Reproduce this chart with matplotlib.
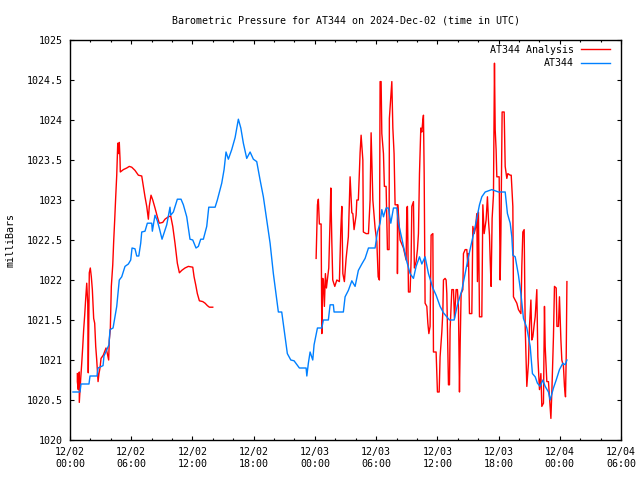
import matplotlib
matplotlib.use("Agg")
import matplotlib.pyplot as plt
from matplotlib.ticker import MultipleLocator, FuncFormatter

# hours since 2024-12-02 00:00 UTC
obs_hours = [0.29, 0.98, 1.08, 1.86, 1.96, 2.65, 2.75, 3.24, 3.33, 3.82, 3.92, 4.22, 4.58, 4.83,
             5.07, 5.39, 5.72, 5.95, 6.08, 6.37, 6.54, 6.74, 6.93, 7.03, 7.35, 7.58, 8.01, 8.07,
             8.33, 8.56, 8.75, 9.02, 9.22, 9.48, 9.80, 9.87, 10.13, 10.52, 10.88, 11.11, 11.44,
             11.76, 12.03, 12.35, 12.58, 12.81, 13.07, 13.40, 13.60, 14.22, 14.44, 14.68, 14.87,
             15.10, 15.29, 15.52, 15.85, 16.18, 16.50, 16.74, 16.99, 17.32, 17.65, 17.97, 18.30,
             18.63, 18.95, 19.28, 19.61, 19.93, 20.26, 20.42, 20.75, 21.08, 21.30, 21.64, 21.96,
             22.48, 23.14, 23.21, 23.36, 23.53, 23.79, 23.92, 24.25, 24.68, 24.83, 25.32, 25.49,
             25.81, 25.88, 26.79, 26.96, 27.28, 27.62, 27.94, 28.26, 28.60, 28.92, 29.25, 29.90,
             30.13, 30.39, 30.56, 30.72, 30.98, 31.21, 31.44, 31.70, 32.03, 32.19, 32.52, 32.68,
             33.01, 33.33, 33.66, 33.92, 34.25, 34.48, 34.80, 35.13, 35.56, 35.88, 36.27, 36.60,
             37.19, 37.65, 37.97, 38.40, 38.73, 39.05, 39.38, 39.71, 40.13, 40.36, 40.69, 41.34,
             41.99, 42.65, 42.87, 43.14, 43.30, 43.40, 43.63, 43.95, 44.19, 44.44, 44.77, 45.10,
             45.32, 45.59, 45.81, 46.08, 46.34, 46.57, 46.89, 47.06, 47.23, 47.38, 47.65, 47.97,
             48.30, 48.53, 48.70]
obs_mb = [1020.60, 1020.60, 1020.70, 1020.70, 1020.80, 1020.80, 1020.90, 1020.93, 1021.05, 1021.19,
          1021.38, 1021.40, 1021.67, 1022.00, 1022.04, 1022.17, 1022.20, 1022.25, 1022.40, 1022.39,
          1022.30, 1022.30, 1022.46, 1022.60, 1022.61, 1022.71, 1022.71, 1022.61, 1022.81, 1022.74,
          1022.65, 1022.51, 1022.59, 1022.69, 1022.91, 1022.81, 1022.85, 1023.01, 1023.01, 1022.94,
          1022.79, 1022.51, 1022.50, 1022.40, 1022.42, 1022.51, 1022.51, 1022.67, 1022.91, 1022.91,
          1023.00, 1023.12, 1023.21, 1023.38, 1023.60, 1023.51, 1023.63, 1023.78, 1024.01, 1023.90,
          1023.71, 1023.52, 1023.60, 1023.51, 1023.48, 1023.25, 1023.04, 1022.75, 1022.46, 1022.08,
          1021.75, 1021.60, 1021.60, 1021.29, 1021.08, 1021.00, 1020.99, 1020.90, 1020.90, 1020.80,
          1020.96, 1021.10, 1021.00, 1021.19, 1021.40, 1021.40, 1021.50, 1021.50, 1021.69, 1021.69,
          1021.60, 1021.60, 1021.79, 1021.87, 1021.99, 1021.92, 1022.12, 1022.20, 1022.27, 1022.40,
          1022.40, 1022.60, 1022.71, 1022.88, 1022.79, 1022.90, 1022.90, 1022.71, 1022.90, 1022.90,
          1022.71, 1022.52, 1022.42, 1022.23, 1022.08, 1022.02, 1022.17, 1022.29, 1022.20, 1022.29,
          1022.08, 1021.90, 1021.81, 1021.67, 1021.59, 1021.50, 1021.50, 1021.69, 1021.87, 1022.08,
          1022.29, 1022.48, 1022.67, 1022.94, 1023.04, 1023.10, 1023.13, 1023.10, 1023.10, 1022.83,
          1022.71, 1022.54, 1022.31, 1022.29, 1022.06, 1021.83, 1021.52, 1021.40, 1021.17, 1020.83,
          1020.79, 1020.71, 1020.67, 1020.75, 1020.67, 1020.60, 1020.50, 1020.58, 1020.65, 1020.75,
          1020.88, 1020.96, 1020.94, 1021.00]

# analysis, first run (day 1 morning)
ana1_hours = [0.72, 0.72, 0.81, 0.91, 0.91, 1.05, 1.15, 1.25, 1.34, 1.44, 1.54, 1.64, 1.74, 1.79,
              1.89, 1.99, 2.09, 2.19, 2.32, 2.42, 2.52, 2.62, 2.75, 2.84, 2.94, 3.04, 3.26, 3.53,
              3.66, 3.79, 3.85, 3.95, 4.05, 4.19, 4.28, 4.38, 4.48, 4.58, 4.68, 4.77, 4.83, 4.90,
              4.93, 5.23, 5.56, 5.81, 6.05, 6.37, 6.70, 7.03, 7.19, 7.35, 7.52, 7.68, 7.77, 7.94,
              8.11, 8.33, 8.56, 8.75, 9.09, 9.31, 9.64, 9.87, 10.07, 10.29, 10.52, 10.72, 10.95,
              11.27, 11.60, 12.03, 12.16, 12.32, 12.48, 12.68, 13.01, 13.24, 13.46, 13.66, 13.99]
ana1_mb = [1020.83, 1020.73, 1020.63, 1020.85, 1020.47, 1020.77, 1020.96, 1021.17, 1021.38, 1021.56,
           1021.77, 1021.96, 1021.71, 1020.84, 1022.09, 1022.15, 1022.04, 1021.88, 1021.52, 1021.46,
           1021.17, 1021.00, 1020.73, 1020.83, 1020.90, 1021.02, 1021.06, 1021.15, 1021.08, 1021.00,
           1021.25, 1021.38, 1021.92, 1022.19, 1022.48, 1022.75, 1023.04, 1023.31, 1023.71, 1023.58,
           1023.72, 1023.52, 1023.35, 1023.38, 1023.40, 1023.42, 1023.41, 1023.37, 1023.31, 1023.30,
           1023.17, 1023.04, 1022.92, 1022.76, 1022.92, 1023.06, 1023.00, 1022.90, 1022.79, 1022.71,
           1022.72, 1022.76, 1022.79, 1022.80, 1022.67, 1022.46, 1022.21, 1022.09, 1022.12, 1022.15,
           1022.17, 1022.16, 1022.04, 1021.94, 1021.83, 1021.74, 1021.73, 1021.71, 1021.68, 1021.66,
           1021.66]

# analysis, second run (day 2)
ana2_hours = [24.12, 24.25, 24.34, 24.44, 24.61, 24.68, 24.77, 24.83, 24.93, 25.03, 25.13, 25.36,
              25.49, 25.56, 25.66, 25.75, 25.95, 26.15, 26.40, 26.54, 26.64, 26.74, 26.89, 27.06,
              27.28, 27.45, 27.62, 27.72, 27.84, 28.04, 28.11, 28.26, 28.43, 28.53, 28.70, 28.75,
              29.02, 29.25, 29.41, 29.51, 29.68, 29.90, 30.07, 30.20, 30.32, 30.39, 30.49, 30.56,
              30.72, 30.81, 30.98, 31.11, 31.27, 31.30, 31.54, 31.64, 31.76, 31.86, 32.09, 32.09,
              32.13, 32.35, 32.68, 32.94, 33.01, 33.07, 33.17, 33.33, 33.43, 33.50, 33.66, 33.75,
              33.92, 34.05, 34.15, 34.25, 34.38, 34.48, 34.58, 34.64, 34.71, 34.80, 34.97, 35.07,
              35.17, 35.29, 35.39, 35.56, 35.62, 35.88, 36.01, 36.18, 36.27, 36.44, 36.54, 36.60,
              36.76, 36.86, 36.93, 37.09, 37.19, 37.25, 37.42, 37.58, 37.68, 37.84, 37.97, 38.07,
              38.17, 38.24, 38.33, 38.50, 38.56, 38.73, 38.89, 38.99, 39.05, 39.15, 39.38, 39.48,
              39.61, 39.74, 39.87, 39.93, 40.03, 40.13, 40.36, 40.46, 40.59, 40.78, 40.91, 41.01,
              41.11, 41.18, 41.27, 41.37, 41.50, 41.60, 41.67, 41.76, 41.83, 42.06, 42.16, 42.23,
              42.35, 42.55, 42.65, 42.81, 42.91, 43.14, 43.24, 43.40, 43.46, 43.63, 43.79, 43.95,
              44.19, 44.28, 44.38, 44.51, 44.61, 44.77, 44.93, 45.03, 45.17, 45.26, 45.36, 45.49,
              45.59, 45.75, 45.85, 46.01, 46.15, 46.24, 46.40, 46.50, 46.57, 46.73, 46.89, 46.99,
              47.13, 47.23, 47.38, 47.48, 47.65, 47.72, 47.87, 47.97, 48.11, 48.20, 48.36, 48.46,
              48.56, 48.63, 48.70]
ana2_mb = [1022.27, 1022.94, 1023.01, 1022.70, 1022.70, 1021.33, 1022.02, 1022.00, 1021.67, 1022.08,
           1021.90, 1022.15, 1022.76, 1023.15, 1022.48, 1022.00, 1021.92, 1022.00, 1021.98, 1022.63,
           1022.92, 1022.08, 1021.98, 1022.27, 1022.54, 1023.29, 1022.84, 1022.83, 1022.63, 1022.81,
           1023.00, 1023.00, 1023.59, 1023.81, 1023.50, 1022.60, 1022.58, 1022.58, 1023.00, 1023.84,
           1023.00, 1022.65, 1022.48, 1022.04, 1022.00, 1024.48, 1024.48, 1023.83, 1023.58, 1023.17,
           1023.17, 1022.38, 1022.38, 1024.02, 1024.48, 1023.90, 1023.58, 1022.94, 1022.94, 1022.08,
           1022.94, 1022.50, 1022.40, 1022.25, 1022.90, 1022.92, 1021.85, 1021.85, 1022.25, 1022.92,
           1022.98, 1022.15, 1022.23, 1022.38, 1022.58, 1023.33, 1023.90, 1023.85, 1024.00, 1024.06,
           1023.33, 1021.71, 1021.67, 1021.46, 1021.33, 1021.42, 1022.56, 1022.58, 1021.10, 1021.10,
           1020.60, 1020.60, 1021.04, 1021.35, 1021.60, 1022.00, 1022.02, 1022.00, 1021.83, 1020.69,
           1020.69, 1021.38, 1021.88, 1021.88, 1021.52, 1021.88, 1021.88, 1021.65, 1020.60, 1021.21,
           1021.83, 1021.88, 1022.33, 1022.38, 1022.38, 1022.17, 1022.33, 1021.58, 1021.58, 1022.67,
           1022.58, 1022.65, 1022.83, 1021.98, 1022.85, 1021.54, 1021.54, 1022.94, 1022.58, 1022.75,
           1023.04, 1022.75, 1022.56, 1022.25, 1021.92, 1022.77, 1023.06, 1024.71, 1023.88, 1023.63,
           1023.29, 1023.29, 1022.00, 1022.58, 1024.10, 1024.10, 1023.42, 1023.27, 1023.33, 1023.31,
           1023.31, 1022.92, 1021.79, 1021.75, 1021.71, 1021.63, 1021.58, 1022.17, 1022.60, 1022.63,
           1021.42, 1020.67, 1020.96, 1021.42, 1021.75, 1021.25, 1021.29, 1021.44, 1021.54, 1021.88,
           1021.04, 1020.63, 1020.83, 1020.42, 1020.46, 1021.67, 1021.17, 1020.73, 1020.73, 1020.54,
           1020.27, 1020.63, 1021.29, 1021.92, 1021.90, 1021.42, 1021.42, 1021.79, 1021.25, 1021.00,
           1020.92, 1020.67, 1020.54, 1021.04, 1021.98]

tick_hours = [0, 6, 12, 18, 24, 30, 36, 42, 48, 54]
tick_labels = ["12/02\n00:00", "12/02\n06:00", "12/02\n12:00", "12/02\n18:00", "12/03\n00:00",
               "12/03\n06:00", "12/03\n12:00", "12/03\n18:00", "12/04\n00:00", "12/04\n06:00"]

plt.rcParams["font.family"] = "DejaVu Sans Mono"
plt.rcParams["font.size"] = 7.2

fig = plt.figure(figsize=(6.4, 4.8), dpi=100)
ax = fig.add_axes([70 / 640, 40 / 480, 551 / 640, 400 / 480])

red = "#ff0000"
blue = "#0080ff"
ax.plot(ana1_hours, ana1_mb, color=red, lw=1.0, label="AT344 Analysis")
ax.plot(ana2_hours, ana2_mb, color=red, lw=1.0)
ax.plot(obs_hours, obs_mb, color=blue, lw=1.0, label="AT344")

ax.set_xlim(0, 54)
ax.set_ylim(1020, 1025)
ax.set_xticks(tick_hours)
ax.set_xticklabels(tick_labels)
ax.xaxis.set_minor_locator(MultipleLocator(2))
ax.yaxis.set_major_locator(MultipleLocator(0.5))
ax.yaxis.set_major_formatter(FuncFormatter(lambda v, p: "%g" % v))
ax.tick_params(which="major", direction="in", top=True, right=True, length=3.2, width=0.8)
ax.tick_params(which="minor", direction="in", top=True, right=True, length=1.6, width=0.8)
ax.tick_params(axis="x", pad=5)
ax.tick_params(axis="y", pad=5)
for s in ax.spines.values():
    s.set_linewidth(1.0)

ax.set_ylabel("milliBars", labelpad=8)
ax.set_title("Barometric Pressure for AT344 on 2024-Dec-02 (time in UTC)",
             fontsize=7.2, pad=12)

ax.legend(loc="upper right", bbox_to_anchor=(1 - 7 / 551, 1 - 1 / 400), frameon=False,
          markerfirst=False, handlelength=2.9, borderaxespad=0, labelspacing=0.35,
          handletextpad=0.7)

fig.savefig("out.png", dpi=100)
